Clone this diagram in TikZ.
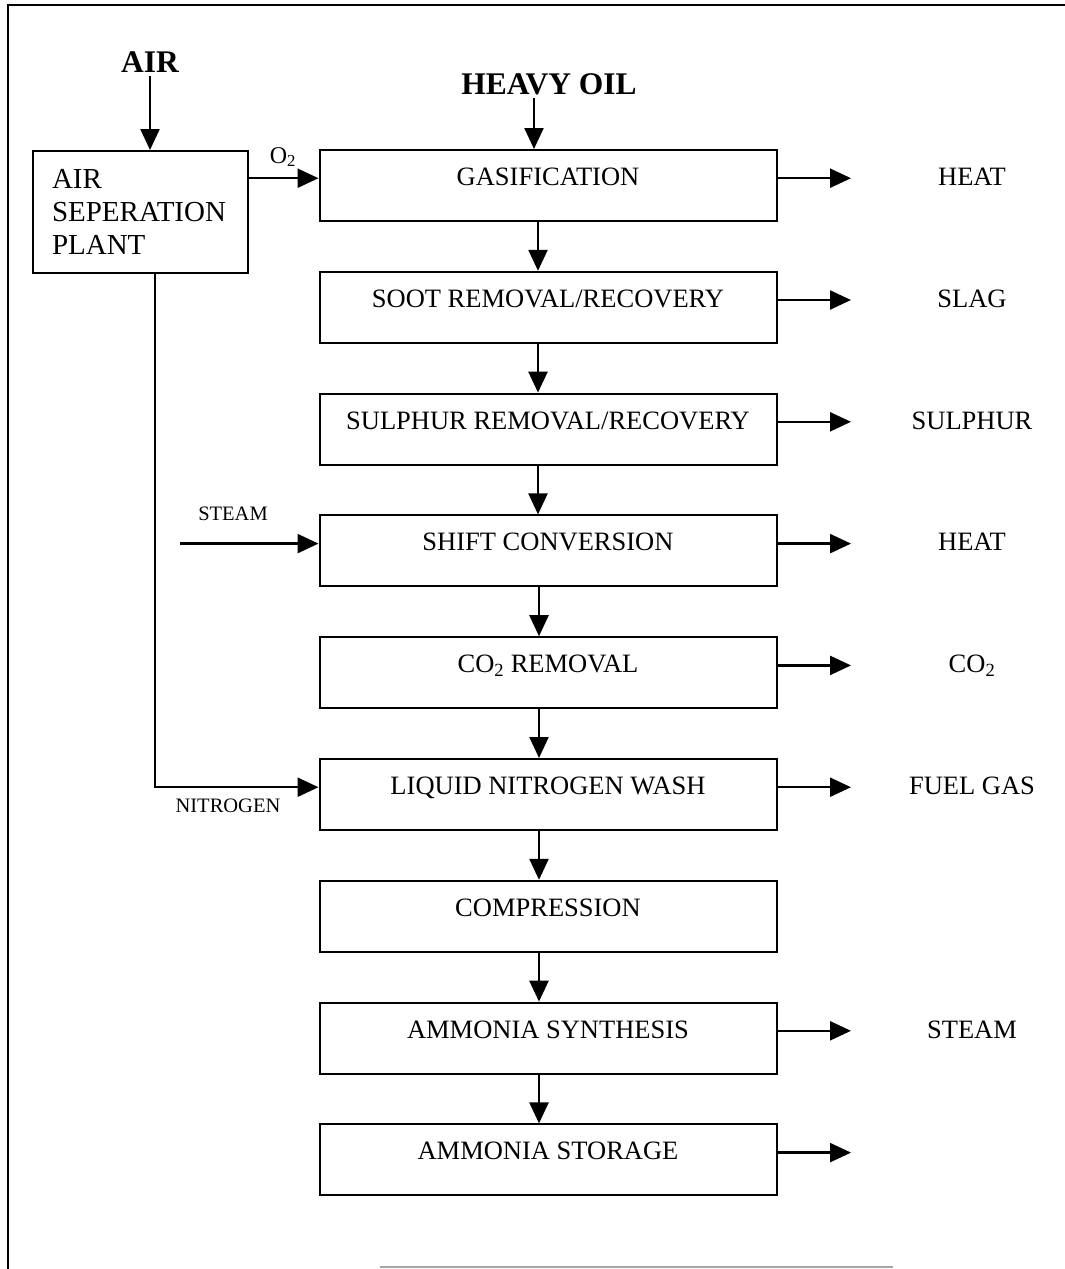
\documentclass[tikz,border=0pt]{standalone}
\usepackage{fontspec}
\setmainfont{Liberation Serif}
\usetikzlibrary{arrows.meta}

\begin{document}
\begin{tikzpicture}[x=1pt, y=-1pt, node distance=121.8pt,
    block/.style={draw, line width=2pt, minimum width=457pt, inner sep=0pt, text height=35.5pt, text depth=35.5pt, font=\fontsize{26.5}{30}\selectfont},
    flow/.style={-{Triangle[length=21pt,width=19pt]}, line width=2.4pt},
    outlbl/.style={anchor=mid, font=\fontsize{26.5}{30}\selectfont},
    small/.style={font=\fontsize{20.5}{24}\selectfont},
    heading/.style={font=\bfseries\fontsize{31.5}{34}\selectfont}]
        \useasboundingbox (0,0) rectangle (1065,1269);
        \draw[line width=2pt] (1065,5) -- (8,5) -- (8,1269);
        \draw[gray!70, line width=2pt] (380,1267) -- (893,1267);
        % feeds
        \node[heading] (air) at (150,62) {AIR};
        \node[heading] (oil) at (549,84) {HEAVY OIL};
        \node[draw, line width=2pt, minimum width=215pt, minimum height=122pt, text width=177pt, inner xsep=19pt, align=left, font=\fontsize{29}{33}\selectfont] (asp) at (140.5,212) {AIR\\SEPERATION\\PLANT};
        % main train
        \node[block] (gasif) at (548,185.5) {GASIFICATION};
        \node[block, below of=gasif] (soot) {SOOT REMOVAL/RECOVERY};
        \node[block, below of=soot] (sulph) {SULPHUR REMOVAL/RECOVERY};
        \node[block, below of=sulph] (shift) {SHIFT CONVERSION};
        \node[block, below of=shift] (co2rem) {CO\textsubscript{2} REMOVAL};
        \node[block, below of=co2rem] (lnw) {LIQUID NITROGEN WASH};
        \node[block, below of=lnw] (comp) {COMPRESSION};
        \node[block, below of=comp] (synth) {AMMONIA SYNTHESIS};
        \node[block, below of=synth] (store) {AMMONIA STORAGE};
        % products
        \coordinate (outcol) at (972,0);
        \coordinate (tip) at (851,0);
        \node[outlbl] (heat1) at (gasif.mid -| outcol) {HEAT};
        \node[outlbl] (slag) at (soot.mid -| outcol) {SLAG};
        \node[outlbl] (sulphur) at (sulph.mid -| outcol) {SULPHUR};
        \node[outlbl] (heat2) at (shift.mid -| outcol) {HEAT};
        \node[outlbl] (co2) at (co2rem.mid -| outcol) {CO\textsubscript{2}};
        \node[outlbl] (fuel) at (lnw.mid -| outcol) {FUEL GAS};
        \node[outlbl] (steamout) at (synth.mid -| outcol) {STEAM};
        % side streams
        \coordinate (steamin) at (180,0);
        \node[small] (steam) at (233,514) {STEAM};
        \node[small] (nitro) at (228,806) {NITROGEN};
        \node[font=\fontsize{24}{26}\selectfont] (o2) at (283,157) {O\textsubscript{2}};
        \draw[flow] (air.south) -- (air.south |- asp.north);
        \draw[flow] ([xshift=-15pt]oil.south) -- ([xshift=-15pt]oil.south |- gasif.north);
        \draw[flow] ([yshift=5pt]gasif.mid west -| asp.east) -- ([yshift=5pt]gasif.mid west);
        \draw[flow] ([yshift=5pt]shift.mid west -| steamin) -- ([yshift=5pt]shift.mid west);
        \draw[flow] ([xshift=14.5pt]asp.south) |- ([yshift=5pt]lnw.mid west);
        \draw[flow] ([xshift=-10pt]gasif.south) -- ([xshift=-10pt]soot.north);
        \draw[flow] ([xshift=-10pt]soot.south) -- ([xshift=-10pt]sulph.north);
        \draw[flow] ([xshift=-10pt]sulph.south) -- ([xshift=-10pt]shift.north);
        \draw[flow] ([xshift=-9pt]shift.south) -- ([xshift=-9pt]co2rem.north);
        \draw[flow] ([xshift=-9pt]co2rem.south) -- ([xshift=-9pt]lnw.north);
        \draw[flow] ([xshift=-9pt]lnw.south) -- ([xshift=-9pt]comp.north);
        \draw[flow] ([xshift=-9pt]comp.south) -- ([xshift=-9pt]synth.north);
        \draw[flow] ([xshift=-9pt]synth.south) -- ([xshift=-9pt]store.north);
        \draw[flow] ([yshift=5pt]gasif.mid east) -- ([yshift=5pt]gasif.mid east -| tip);
        \draw[flow] ([yshift=5pt]soot.mid east) -- ([yshift=5pt]soot.mid east -| tip);
        \draw[flow] ([yshift=5pt]sulph.mid east) -- ([yshift=5pt]sulph.mid east -| tip);
        \draw[flow] ([yshift=5pt]shift.mid east) -- ([yshift=5pt]shift.mid east -| tip);
        \draw[flow] ([yshift=5pt]co2rem.mid east) -- ([yshift=5pt]co2rem.mid east -| tip);
        \draw[flow] ([yshift=5pt]lnw.mid east) -- ([yshift=5pt]lnw.mid east -| tip);
        \draw[flow] ([yshift=5pt]synth.mid east) -- ([yshift=5pt]synth.mid east -| tip);
        \draw[flow] ([yshift=5pt]store.mid east) -- ([yshift=5pt]store.mid east -| tip);
      \end{tikzpicture}
\end{document}
